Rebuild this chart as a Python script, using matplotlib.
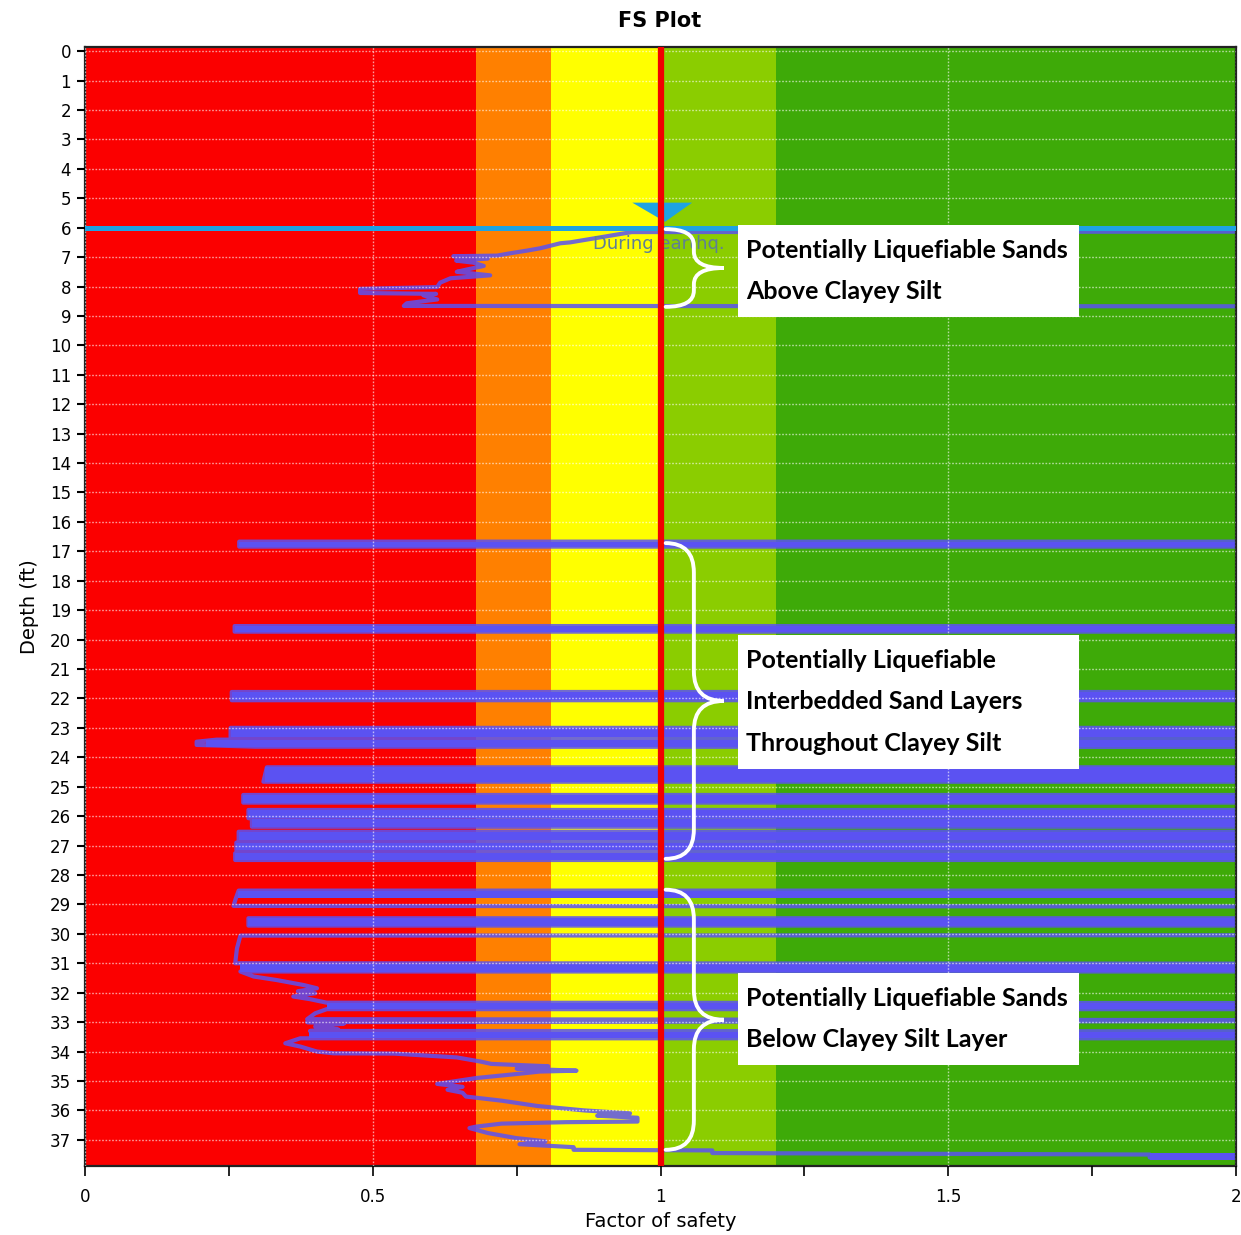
import matplotlib
matplotlib.use("Agg")
import matplotlib.pyplot as plt
from matplotlib.path import Path
from matplotlib.patches import PathPatch, Rectangle, Polygon
from matplotlib.ticker import MultipleLocator
import numpy as np

# factor-of-safety trace (3.0 = off the chart to the right)
fs_curve = [3.0, 0.95, 0.843, 0.826, 0.791, 0.768, 0.739, 0.716, 0.64, 0.70, 0.645, 0.675, 0.693,
            0.664, 0.646, 0.704, 0.635, 0.617, 0.612, 0.478, 0.478, 0.61, 0.588, 0.612, 0.559, 0.554, 3.0,
            3.0, 0.268, 0.268, 3.0,
            3.0, 0.26, 0.26, 3.0,
            3.0, 0.255, 0.255, 3.0,
            3.0, 0.253, 0.253, 3.0,
            3.0, 0.229, 0.194, 0.194, 0.296, 3.0,
            3.0, 0.316, 0.31, 3.0,
            3.0, 0.275, 0.275, 3.0,
            3.0, 0.284, 0.284, 3.0,
            3.0, 0.29, 0.29, 3.0,
            3.0, 0.267, 0.267, 3.0,
            3.0, 0.263, 0.263, 3.0,
            3.0, 0.261, 0.261, 3.0,
            3.0, 0.267, 0.262, 0.258, 3.0,
            3.0, 0.284, 0.284, 3.0,
            3.0, 0.27, 0.264, 0.261, 3.0,
            3.0, 0.27, 0.278, 0.293, 0.333, 0.38, 0.403, 0.37, 0.40, 0.362, 0.391, 0.42, 3.0,
            3.0, 0.42, 0.40, 0.386, 3.0, 0.386, 0.45, 0.40, 0.44, 0.391, 3.0,
            3.0, 0.374, 0.348, 0.374, 0.403, 0.432, 0.537, 0.646, 0.687, 0.706, 0.805, 0.75, 0.854,
            0.79, 0.762, 0.68, 0.612, 0.656, 0.63, 0.656, 0.662, 0.724, 0.786, 0.867, 0.947, 0.89,
            0.96, 0.96, 0.836, 0.724, 0.68, 0.668, 0.70, 0.749, 0.80, 0.755, 0.849, 0.849, 1.09,
            1.09, 1.85, 1.85, 3.0]
depth_curve = [6.12, 6.15, 6.5, 6.53, 6.7, 6.78, 6.87, 6.95, 6.97, 7.05, 7.12, 7.19, 7.3,
               7.42, 7.5, 7.62, 7.72, 7.87, 8.02, 8.08, 8.22, 8.25, 8.3, 8.44, 8.57, 8.66, 8.68,
               16.67, 16.67, 16.84, 16.84,
               19.54, 19.54, 19.73, 19.73,
               21.78, 21.78, 22.06, 22.06,
               23.0, 23.0, 23.3, 23.3,
               23.38, 23.4, 23.47, 23.58, 23.64, 23.65,
               24.34, 24.34, 24.83, 24.83,
               25.28, 25.28, 25.54, 25.54,
               25.79, 25.79, 26.07, 26.07,
               26.1, 26.1, 26.36, 26.36,
               26.53, 26.53, 26.81, 26.81,
               26.9, 26.9, 27.15, 27.15,
               27.26, 27.26, 27.49, 27.49,
               28.53, 28.53, 28.8, 29.05, 29.08,
               29.47, 29.47, 29.72, 29.72,
               30.04, 30.06, 30.5, 31.0, 31.02,
               31.28, 31.28, 31.34, 31.45, 31.57, 31.74, 31.85, 31.95, 32.02, 32.13, 32.22, 32.34, 32.36,
               32.56, 32.56, 32.7, 32.9, 32.95, 33.0, 33.05, 33.15, 33.25, 33.3, 33.32,
               33.55, 33.55, 33.72, 33.83, 34.0, 34.06, 34.07, 34.2, 34.34, 34.42, 34.5, 34.58, 34.65,
               34.68, 34.74, 34.9, 35.1, 35.2, 35.3, 35.4, 35.53, 35.67, 35.85, 36.0, 36.1, 36.18,
               36.25, 36.38, 36.4, 36.45, 36.55, 36.6, 36.77, 36.94, 37.05, 37.15, 37.25, 37.34, 37.36,
               37.45, 37.5, 37.6, 37.65]

# thin layers where the trace runs off to the right
layer_top = [16.67, 19.54, 21.78, 23.0, 23.40, 24.34, 25.28, 25.79, 26.1, 26.53, 26.9, 27.26,
             28.53, 29.47, 31.02, 32.36, 33.32, 37.45]
layer_bottom = [16.84, 19.73, 22.06, 23.3, 23.64, 24.83, 25.54, 26.07, 26.36, 26.81, 27.15, 27.49,
                28.79, 29.72, 31.28, 32.56, 33.55, 37.68]
layer_fs = [0.268, 0.26, 0.255, 0.253, 0.21, 0.313, 0.275, 0.284, 0.29, 0.267, 0.263, 0.261,
            0.265, 0.284, 0.27, 0.42, 0.39, 1.85]

# background zones
zone_edges = [0, 0.68, 0.81, 1.0, 1.2, 2.0]
zone_colors = ["#fb0000", "#ff8000", "#ffff00", "#8bcd00", "#3eaa08"]

water_depth = 6.0

x_ticks = [0, 0.5, 1, 1.5, 2]
x_ticklabels = ["0", "0.5", "1", "1.5", "2"]

notes = ["Potentially Liquefiable Sands\nAbove Clayey Silt",
         "Potentially Liquefiable\nInterbedded Sand Layers\nThroughout Clayey Silt",
         "Potentially Liquefiable Sands\nBelow Clayey Silt Layer"]
note_top = [5.91, 19.84, 31.33]
note_bottom = [9.04, 24.40, 34.45]
brace_top = [6.05, 16.72, 28.5]
brace_bottom = [8.69, 27.45, 37.34]

purple = "#5b52f2"


def brace(ax, top, bot, x0=1.009, xs=1.058, xt=1.11, r=0.8):
    mid = (top + bot) / 2
    verts = [(x0, top), (xs, top), (xs, top + r),
             (xs, mid - r), (xs, mid), (xt, mid),
             (xs, mid), (xs, mid + r),
             (xs, bot - r), (xs, bot), (x0, bot)]
    codes = [Path.MOVETO, Path.CURVE3, Path.CURVE3,
             Path.LINETO, Path.CURVE3, Path.CURVE3,
             Path.CURVE3, Path.CURVE3,
             Path.LINETO, Path.CURVE3, Path.CURVE3]
    ax.add_patch(PathPatch(Path(verts, codes), fill=False, edgecolor="white",
                           linewidth=2.8, capstyle="round", zorder=5))


fig = plt.figure(figsize=(12.41, 12.35), dpi=100)
ax = fig.add_axes([85 / 1241, 1 - 1166 / 1235, (1236 - 85) / 1241, (1166 - 47) / 1235])

for i in range(len(zone_colors)):
    ax.axvspan(zone_edges[i], zone_edges[i + 1], color=zone_colors[i], lw=0, zorder=0)

for t, b, f in zip(layer_top, layer_bottom, layer_fs):
    ax.fill_betweenx([t, b], f, 3.0, color=purple, lw=0, zorder=1.5)
ax.plot(fs_curve, depth_curve, color=purple, lw=3.0, alpha=0.85, zorder=2)

ax.set_axisbelow(False)
ax.grid(True, color="white", linestyle=(0, (1.2, 1.2)), linewidth=1.0, alpha=0.6)

ax.axvline(1.0, color="#f20000", lw=4.5, zorder=3.5)
ax.axhline(water_depth, color="#1ea3e3", lw=3.6, zorder=3)
ax.add_patch(Polygon([(0.951, 5.15), (1.055, 5.15), (1.008, 5.8)], closed=True,
                     color="#1ea3e3", lw=0, zorder=3))
ax.text(0.882, 6.55, "During earthq.", color="#5f7f96", fontsize=13, va="center",
        ha="left", zorder=3.2)

for t, b in zip(brace_top, brace_bottom):
    brace(ax, t, b, r=0.55 if b - t < 4 else 1.0)

for txt, t, b in zip(notes, note_top, note_bottom):
    ax.add_patch(Rectangle((1.134, t), 1.727 - 1.134, b - t, facecolor="white",
                           edgecolor="none", zorder=6))
    ax.text(1.149, (t + b) / 2, txt, fontsize=18, fontweight="bold", family="Lato",
            va="center", ha="left", linespacing=1.95, zorder=7)

ax.set_xlim(0, 2)
ax.set_ylim(37.89, -0.14)
ax.set_yticks(range(0, 38))
ax.set_xticks(x_ticks)
ax.set_xticklabels(x_ticklabels)
ax.xaxis.set_minor_locator(MultipleLocator(0.25))
ax.tick_params(axis="y", length=6, width=1.5, labelsize=12, pad=4)
ax.tick_params(axis="x", which="both", length=7, width=1.2, labelsize=12, pad=9)
for s in ax.spines.values():
    s.set_linewidth(1.6)
    s.set_color("#222222")

ax.set_xlabel("Factor of safety", fontsize=14, labelpad=4)
ax.set_ylabel("Depth (ft)", fontsize=14, labelpad=8)
fig.text(660 / 1241, 1 - 21 / 1235, "FS Plot", ha="center", va="center",
         fontsize=15, fontweight="bold")

fig.savefig("out.png", dpi=100)
